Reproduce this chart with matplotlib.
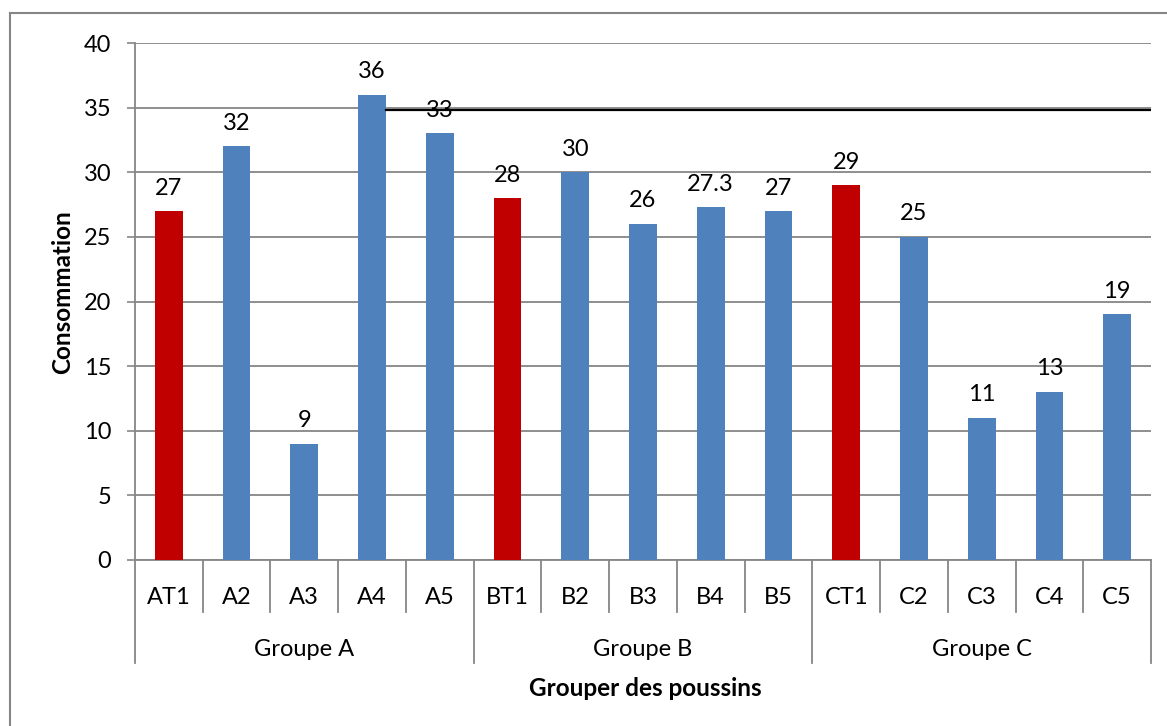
import matplotlib

matplotlib.use("Agg")

import matplotlib.pyplot as plt
import matplotlib.transforms as mtransforms
from matplotlib.lines import Line2D

# consumption per chick lot, three groups of five (first of each group is the control)
categories = ["AT1", "A2", "A3", "A4", "A5",
              "BT1", "B2", "B3", "B4", "B5",
              "CT1", "C2", "C3", "C4", "C5"]
values = [27, 32, 9, 36, 33,
          28, 30, 26, 27.3, 27,
          29, 25, 11, 13, 19]
value_labels = ["27", "32", "9", "36", "33",
                "28", "30", "26", "27.3", "27",
                "29", "25", "11", "13", "19"]
groups = ["Groupe A", "Groupe B", "Groupe C"]
group_size = 5
reference_level = 34.8  # horizontal rule drawn from A4 to the right edge

RED = "#C00000"
BLUE = "#4F81BD"
GRID = "#868686"
FS = 17

plt.rcParams["font.family"] = ["Lato", "DejaVu Sans"]

W, H = 1167, 726
fig = plt.figure(figsize=(W / 100, H / 100), dpi=100)
left, right, top, bottom = 135, 1151, 43, 560
ax = fig.add_axes([left / W, 1 - bottom / H, (right - left) / W, (bottom - top) / H])

n = len(categories)
xs = list(range(n))
colors = [RED if c.endswith("T1") else BLUE for c in categories]
ax.bar(xs, values, width=0.41, color=colors, zorder=3)

for x, v, lab in zip(xs, values, value_labels):
    ax.annotate(lab, (x, v), xytext=(0, 9), textcoords="offset points",
                ha="center", va="bottom", fontsize=FS, zorder=4)

# stray reference rule starting at the right edge of the A4 bar
ax.plot([3 + 0.205, n - 0.5], [reference_level] * 2, color="black", lw=1.6, zorder=4)

ax.set_xlim(-0.5, n - 0.5)
ax.set_ylim(0, 40)
ax.set_yticks(range(0, 41, 5))
ax.tick_params(axis="y", length=6, width=1.2, color=GRID, pad=11, labelsize=FS)
ax.set_xticks([])
ax.yaxis.grid(True, color=GRID, lw=1.3, zorder=0)
for side in ("top", "right"):
    ax.spines[side].set_visible(False)
for side in ("left", "bottom"):
    ax.spines[side].set_color(GRID)
    ax.spines[side].set_linewidth(1.3)

# two-level category axis: item row, then group row
trans = mtransforms.blended_transform_factory(ax.transData, ax.transAxes)
px = 1 / (bottom - top)
row1 = -(612 - bottom) * px
row2 = -(663 - bottom) * px
for i in range(n + 1):
    b = i - 0.5
    depth = row2 if i % group_size == 0 else row1
    ax.plot([b, b], [0, depth], color=GRID, lw=1.3, transform=trans, clip_on=False)
for x, c in zip(xs, categories):
    ax.text(x, -(597 - bottom) * px, c, transform=trans, ha="center", va="center", fontsize=FS)
for g, name in enumerate(groups):
    center = g * group_size + (group_size - 1) / 2
    ax.text(center, -(649 - bottom) * px, name, transform=trans,
            ha="center", va="center", fontsize=FS)

fig.text(645 / W, 1 - 688 / H, "Grouper des poussins", ha="center", va="center",
         fontsize=17.5, fontweight="bold")
fig.text(63 / W, 1 - 292 / H, "Consommation", ha="center", va="center",
         rotation=90, fontsize=17.5, fontweight="bold")

# chart-area frame, running off the right and bottom edges
fig.add_artist(Line2D([10 / W, 10 / W], [0, 1 - 13 / H], color=GRID, lw=1.5))
fig.add_artist(Line2D([10 / W, 1], [1 - 13 / H, 1 - 13 / H], color=GRID, lw=1.5))

fig.savefig("out.png", dpi=100, facecolor="white")
